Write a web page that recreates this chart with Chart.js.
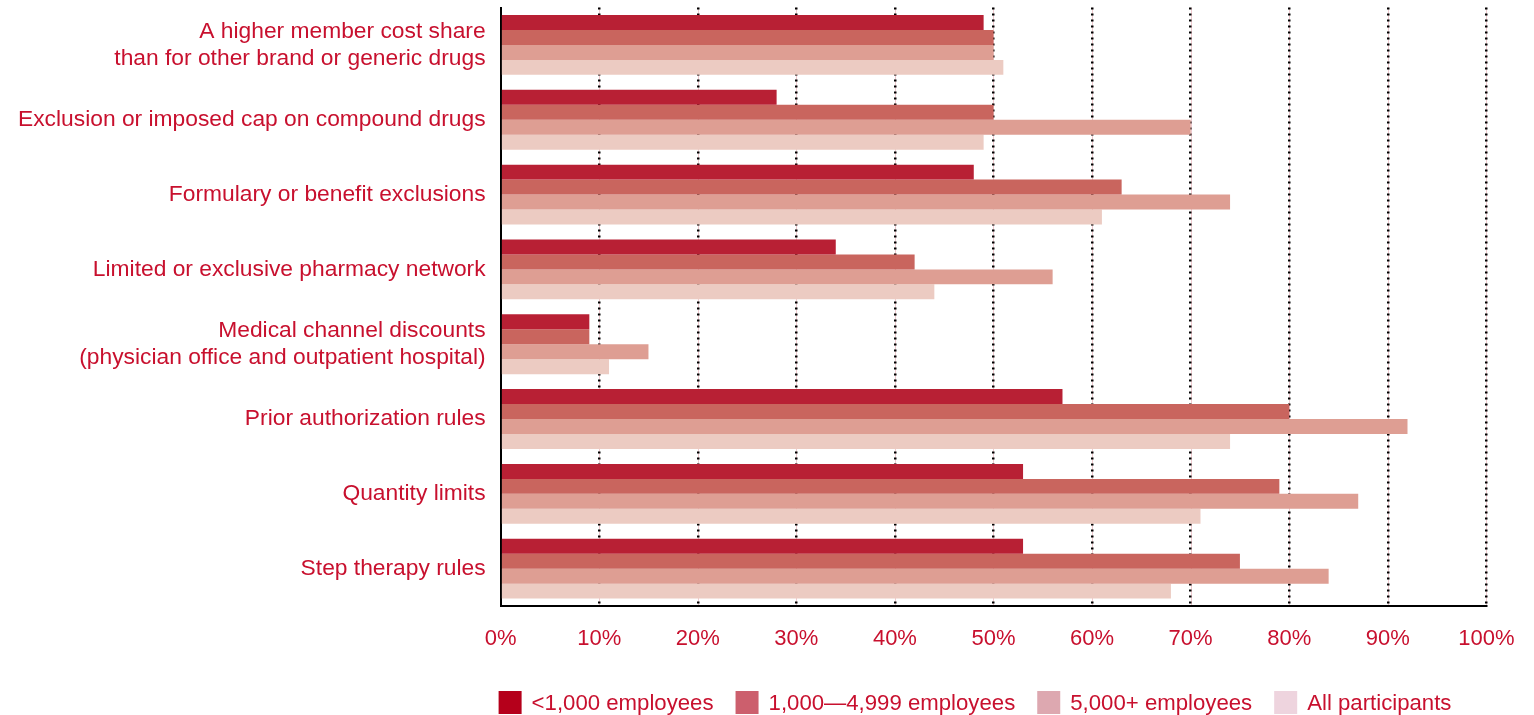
<!DOCTYPE html>
<html>
<head>
<meta charset="utf-8">
<script src="https://cdn.jsdelivr.net/npm/chart.js@4.4.1/dist/chart.umd.min.js"></script>
<style>
  html, body { margin: 0; padding: 0; background: #ffffff; }
  #wrap { width: 1534px; height: 715px; position: relative; }
</style>
</head>
<body>
<div id="wrap"><canvas id="chart"></canvas></div>
<script>
// Pharmacy management tools, share of employers using each, by employer size
const categories = [
  ['A higher member cost share', 'than for other brand or generic drugs'],
  'Exclusion or imposed cap on compound drugs',
  'Formulary or benefit exclusions',
  'Limited or exclusive pharmacy network',
  ['Medical channel discounts', '(physician office and outpatient hospital)'],
  'Prior authorization rules',
  'Quantity limits',
  'Step therapy rules'
];
const seriesNames = ['<1,000 employees', '1,000\u20144,999 employees', '5,000+ employees', 'All participants'];
const small   = [49, 28, 48, 34,  9, 57, 53, 53];
const midSize = [50, 50, 63, 42,  9, 80, 79, 75];
const large   = [50, 70, 74, 56, 15, 92, 87, 84];
const allPart = [51, 49, 61, 44, 11, 74, 71, 68];
const xTicks  = [0, 10, 20, 30, 40, 50, 60, 70, 80, 90, 100];

const barColors    = ['#B82034', '#C9655E', '#DE9E93', '#ECCBC2'];
const legendColors = ['#B5001B', '#CC5F6D', '#DDA8B0', '#EED4DE'];
const textRed = '#C8102E';
const FONT = '"Liberation Sans", Arial, Helvetica, sans-serif';

const seriesValues = [small, midSize, large, allPart];

// faint pink rule behind each dotted gridline
const gridTint = {
  id: 'gridTint',
  beforeDraw(chart) {
    const { ctx, chartArea, scales } = chart;
    ctx.save();
    ctx.strokeStyle = 'rgba(225,160,170,0.55)';
    ctx.lineWidth = 1;
    xTicks.forEach(v => {
      if (v === 0) return;
      const x = Math.round(scales.x.getPixelForValue(v)) + 0.5;
      ctx.beginPath();
      ctx.moveTo(x, chartArea.top);
      ctx.lineTo(x, chartArea.bottom);
      ctx.stroke();
    });
    ctx.restore();
  }
};

// legend row starting at the plot's left edge
const bottomLegend = {
  id: 'bottomLegend',
  afterDraw(chart) {
    const { ctx, chartArea } = chart;
    ctx.save();
    ctx.font = '22.2px ' + FONT;
    ctx.textBaseline = 'middle';
    ctx.textAlign = 'left';
    const y = 703;
    const box = 23;
    let x = chartArea.left - 2;
    seriesNames.forEach((name, i) => {
      ctx.fillStyle = legendColors[i];
      ctx.fillRect(x, y - 12, box, box);
      x += box + 10;
      ctx.fillStyle = textRed;
      ctx.fillText(name, x, y + 1);
      x += ctx.measureText(name).width + 22;
    });
    ctx.restore();
  }
};

new Chart(document.getElementById('chart'), {
  type: 'bar',
  data: {
    labels: categories,
    datasets: seriesNames.map((name, i) => ({
      label: name,
      data: seriesValues[i],
      backgroundColor: barColors[i],
      borderWidth: 0,
      barPercentage: 1.0,
      categoryPercentage: 0.8
    }))
  },
  options: {
    indexAxis: 'y',
    responsive: true,
    maintainAspectRatio: false,
    animation: false,
    layout: { padding: { left: 3, right: 20, top: 7.5, bottom: 43.5 } },
    plugins: {
      legend: { display: false },
      tooltip: { enabled: false }
    },
    scales: {
      x: {
        min: 0,
        max: 100,
        afterBuildTicks(scale) { scale.ticks = xTicks.map(v => ({ value: v })); },
        grid: {
          color: ctx => (ctx.tick && ctx.tick.value === 0) ? 'rgba(0,0,0,0)' : '#000000',
          lineWidth: 2.5,
          drawTicks: false,
          tickLength: 0
        },
        border: { display: true, color: '#000000', width: 2, dash: [2, 4] },
        ticks: {
          padding: 19.5,
          color: textRed,
          font: { family: FONT, size: 22, lineHeight: 1.2 },
          callback: v => v + '%'
        }
      },
      y: {
        afterFit(scale) { scale.paddingTop = 0; scale.paddingBottom = 0; },
        grid: { display: false, drawTicks: false, tickLength: 0 },
        border: { display: true, color: '#000000', width: 2 },
        ticks: {
          padding: 15,
          color: textRed,
          font: { family: FONT, size: 22.8, lineHeight: 1.2 },
          autoSkip: false
        }
      }
    }
  },
  plugins: [gridTint, bottomLegend]
});
</script>
</body>
</html>
